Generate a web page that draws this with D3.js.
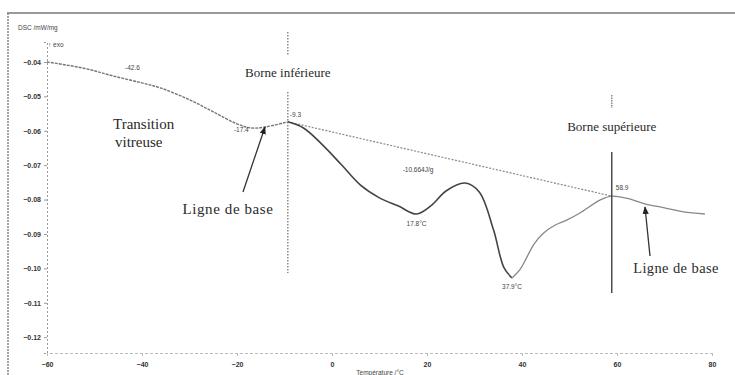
<!DOCTYPE html>
<html>
<head>
<meta charset="utf-8">
<script src="https://cdnjs.cloudflare.com/ajax/libs/d3/7.8.5/d3.min.js"></script>
<style>
  body { margin: 0; background: #fff; }
  svg { display: block; }
  .tick text { font-family: "Liberation Sans", Arial, sans-serif; font-size: 7px; fill: #333; }
  .serif { font-family: "Liberation Serif", "DejaVu Serif", serif; fill: #2a2a2a; }
  .small { font-family: "Liberation Sans", Arial, sans-serif; font-size: 6.5px; fill: #444; }
</style>
</head>
<body>
<svg id="chart" width="735" height="375"></svg>
<script>
// DSC curve, temperature (°C) vs heat flow (mW/mg)
const temps = [-60, -52, -46, -40, -36, -30, -25, -20, -17, -14, -9.3, -6, -2, 2, 6, 10, 14, 17.8,
               21, 24, 28, 31, 34, 36.2, 37.9, 39.6, 41, 42.5, 44.5, 47, 49.5, 52.2, 56.5, 58.9, 62, 66, 70, 74, 78.5];
const dsc = [-0.0400, -0.0419, -0.0441, -0.0461, -0.0476, -0.0510, -0.0545, -0.0580, -0.0592, -0.0589,
             -0.0574, -0.0592, -0.0641, -0.0699, -0.0758, -0.0795, -0.0819, -0.0842,
             -0.0816, -0.0775, -0.0752, -0.0778, -0.0888, -0.0998, -0.1028, -0.1003, -0.0968, -0.0930, -0.0898,
             -0.0874, -0.0859, -0.0839, -0.0801, -0.0790, -0.0796, -0.0813, -0.0824, -0.0836, -0.0842];

// baseline between the two bounds
const baseT = [-9.3, 58.9];
const baseV = [-0.0574, -0.0790];

const xTicks = [-60, -40, -20, 0, 20, 40, 60, 80];
const yTicks = [-0.04, -0.05, -0.06, -0.07, -0.08, -0.09, -0.10, -0.11, -0.12];

// point labels on the curve
const markT = [-42, -17.4, -9.3, 17.8, 37.9, 58.9];
const markV = [-0.0448, -0.0592, -0.0574, -0.0842, -0.1028, -0.0790];
const markText = ["-42.6", "-17.4", "-9.3", "17.8°C", "37.9°C", "58.9"];

const svg = d3.select("#chart");

const x = d3.scaleLinear().domain([-60, 80]).range([47, 712]);
const y = d3.scaleLinear().domain([-0.1246, -0.0342]).range([353, 42]);

// frame
svg.append("line").attr("x1", 7).attr("x2", 735).attr("y1", 13).attr("y2", 13)
    .attr("stroke", "#777").attr("stroke-width", 1.5);
svg.append("line").attr("x1", 8).attr("x2", 8).attr("y1", 13).attr("y2", 375)
    .attr("stroke", "#888").attr("stroke-width", 1.5).attr("stroke-dasharray", "2,1");

// axes
const yAxis = d3.axisLeft(y).tickValues(yTicks).tickSize(3).tickFormat(d3.format(".2f"));
const gy = svg.append("g").attr("transform", "translate(47,0)").call(yAxis);
gy.select(".domain").attr("stroke", "#999").attr("stroke-dasharray", "2,2");
gy.selectAll(".tick line").attr("stroke", "#999");

const xAxis = d3.axisBottom(x).tickValues(xTicks).tickSize(3).tickPadding(6);
const gx = svg.append("g").attr("transform", "translate(0,353)").call(xAxis);
gx.select(".domain").attr("stroke", "#bbb").attr("stroke-dasharray", "3,2");
gx.selectAll(".tick line").attr("stroke", "#bbb");
gx.selectAll(".tick text").attr("font-weight", "bold");
gy.selectAll(".tick text").attr("font-weight", "bold");

svg.append("text").attr("class", "small").attr("x", 18).attr("y", 30).text("DSC /mW/mg");
svg.append("text").attr("class", "small").attr("x", 48).attr("y", 47).text("↑ exo");
svg.append("text").attr("class", "small").attr("x", 380).attr("y", 375).attr("text-anchor", "middle")
    .text("Température /°C");

// baseline
svg.append("path")
    .datum(d3.range(baseT.length))
    .attr("fill", "none").attr("stroke", "#888").attr("stroke-width", 1.2)
    .attr("stroke-dasharray", "2,1.5")
    .attr("d", d3.line().x(i => x(baseT[i])).y(i => y(baseV[i])));

// curve
const line = d3.line().curve(d3.curveCatmullRom.alpha(0.5))
    .x(i => x(temps[i])).y(i => y(dsc[i]));
const idx = d3.range(temps.length);
svg.append("path").datum(idx.filter(i => temps[i] <= -9.3))
    .attr("fill", "none").attr("stroke", "#777").attr("stroke-width", 1.4)
    .attr("stroke-dasharray", "3,1").attr("d", line);
svg.append("path").datum(idx.filter(i => temps[i] >= -9.3 && temps[i] <= 37.9))
    .attr("fill", "none").attr("stroke", "#444").attr("stroke-width", 1.6).attr("d", line);
svg.append("path").datum(idx.filter(i => temps[i] >= 37.9))
    .attr("fill", "none").attr("stroke", "#888").attr("stroke-width", 1.3).attr("d", line);

// bound lines
const bounds = [
  {t: -9.3, segs: [[32, 56], [92, 273]], dash: ["1.5,1.5", "1.5,1.5"], label: "Borne inférieure", ly: 77},
  {t: 58.9, segs: [[95, 108], [152, 293]], dash: ["1.5,1", null], label: "Borne supérieure", ly: 131}
];
bounds.forEach(b => {
  b.segs.forEach((s, k) => {
    svg.append("line").attr("x1", x(b.t)).attr("x2", x(b.t)).attr("y1", s[0]).attr("y2", s[1])
      .attr("stroke", k === 1 && !b.dash[k] ? "#333" : "#777").attr("stroke-width", 1.3)
      .attr("stroke-dasharray", b.dash[k]);
  });
  svg.append("text").attr("class", "serif").attr("x", x(b.t)).attr("y", b.ly)
    .attr("text-anchor", "middle").attr("font-size", 13).text(b.label);
});

// point labels
const offs = [[0, -8], [-8, 4], [2, -5], [0, 12], [0, 11], [4, -6]];
markT.forEach((t, i) => {
  svg.append("text").attr("class", "small").attr("x", x(t) + offs[i][0]).attr("y", y(markV[i]) + offs[i][1])
    .attr("text-anchor", i === 2 || i === 5 ? "start" : "middle").text(markText[i]);
});
svg.append("text").attr("class", "small").attr("x", 418).attr("y", 172).attr("text-anchor", "middle")
    .text("-10.664J/g");

// annotations
svg.append("text").attr("class", "serif").attr("x", 113).attr("y", 129).attr("font-size", 15).text("Transition");
svg.append("text").attr("class", "serif").attr("x", 115).attr("y", 147).attr("font-size", 15).text("vitreuse");
svg.append("text").attr("class", "serif").attr("x", 228).attr("y", 214).attr("font-size", 15)
    .attr("letter-spacing", 0.6).attr("text-anchor", "middle").text("Ligne de base");
svg.append("text").attr("class", "serif").attr("x", 676).attr("y", 273).attr("font-size", 14.5)
    .attr("letter-spacing", 0.4).attr("text-anchor", "middle").text("Ligne de base");

svg.append("defs").append("marker").attr("id", "ah").attr("viewBox", "0 0 10 10")
    .attr("refX", 9).attr("refY", 5).attr("markerWidth", 6).attr("markerHeight", 6)
    .attr("orient", "auto").append("path").attr("d", "M0,1 L10,5 L0,9 z").attr("fill", "#222");
[[243, 192, 265, 127], [650, 256, 645, 207]].forEach(a => {
  svg.append("line").attr("x1", a[0]).attr("y1", a[1]).attr("x2", a[2]).attr("y2", a[3])
    .attr("stroke", "#333").attr("stroke-width", 1.3).attr("marker-end", "url(#ah)");
});
</script>
</body>
</html>
